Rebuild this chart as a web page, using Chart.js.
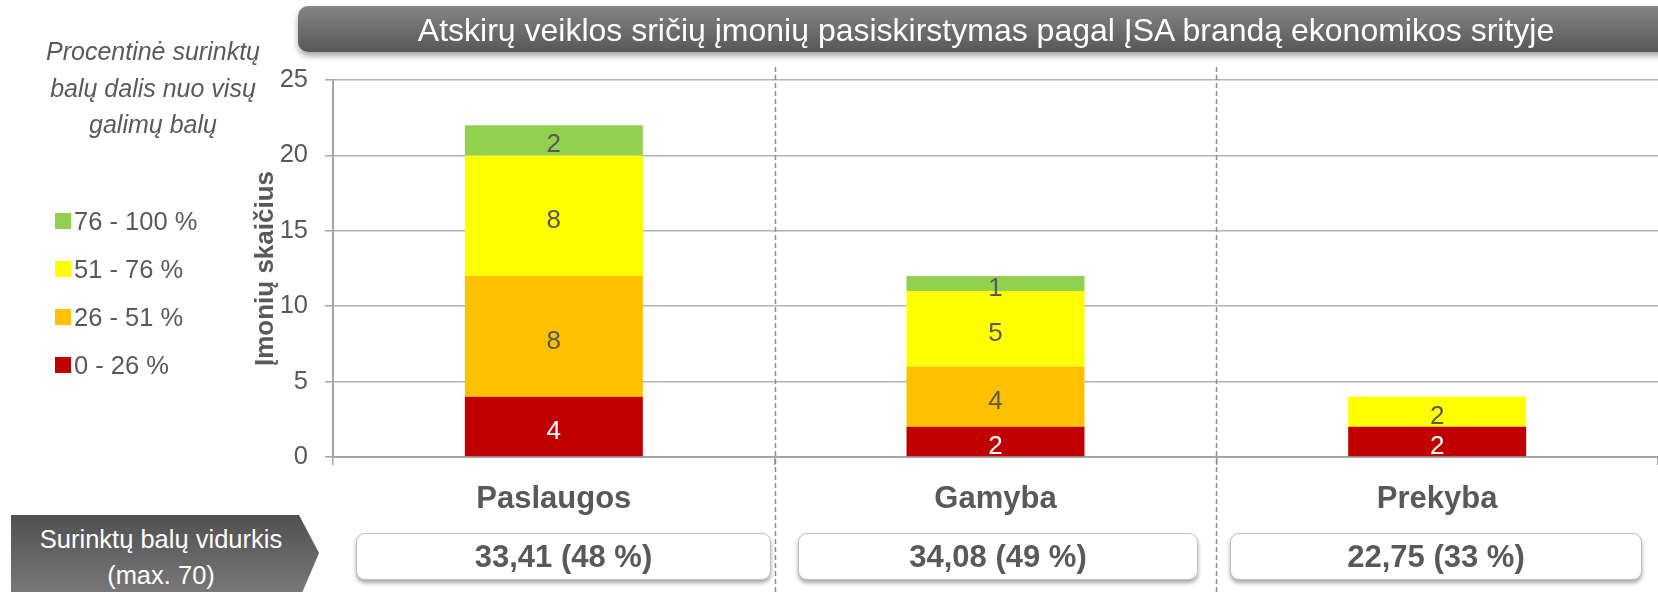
<!DOCTYPE html>
<html>
<head>
<meta charset="utf-8">
<script src="https://cdn.jsdelivr.net/npm/chart.js@4/dist/chart.umd.min.js"></script>
<style>
    html, body { margin: 0; padding: 0; background: #fff; }
    body { width: 1658px; height: 592px; overflow: hidden; position: relative;
           font-family: 'Liberation Sans', Arial, sans-serif; color: #595959; }
    #chart { position: absolute; left: 0; top: 0; }
    .title-bar { position: absolute; left: 298px; top: 6px; width: 1376px; height: 46px;
                 border-radius: 10px; background: linear-gradient(#858585, #575757);
                 box-shadow: 0 4px 6px rgba(0,0,0,0.35); color: #fff; font-size: 32px;
                 line-height: 48px; text-align: center; }
    .note { position: absolute; left: 23px; top: 33px; width: 260px; text-align: center;
            font-style: italic; font-size: 25px; line-height: 36.5px; }
    #legend { position: absolute; left: 55px; top: 206px; }
    .legend-row { display: flex; align-items: center; height: 30px; margin-bottom: 18px; font-size: 25.5px; }
    .legend-row span.box { width: 16px; height: 16px; margin-right: 3px; }
    .avg-tag { position: absolute; left: 11px; top: 515px; width: 310px; height: 85px;
               background: linear-gradient(#505050, #7c7c7c);
               clip-path: polygon(0 0, 288px 0, 308px 38px, 288px 85px, 0 85px);
               color: #fff; font-size: 25.5px; line-height: 36px; }
    .avg-tag div { width: 300px; text-align: center; padding-top: 6px; }
    .avg-box { position: absolute; top: 533px; height: 47px; box-sizing: border-box;
               border: 1.5px solid #BFBFBF; border-radius: 9px; background: #fff;
               box-shadow: 0 3px 4px rgba(0,0,0,0.35); font-weight: bold; font-size: 31px;
               display: flex; align-items: center; justify-content: center; }
</style>
</head>
<body>
<canvas id="chart" width="1658" height="592"></canvas>
<div class="title-bar">Atskirų veiklos sričių įmonių pasiskirstymas pagal ĮSA brandą ekonomikos srityje</div>
<div class="note">Procentinė surinktų<br>balų dalis nuo visų<br>galimų balų</div>
<div id="legend"></div>
<div class="avg-tag"><div>Surinktų balų vidurkis<br>(max. 70)</div></div>
<div id="avg-boxes"></div>
<script>
const categories = ['Paslaugos', 'Gamyba', 'Prekyba'];
const bandLabels = ['0 - 26 %', '26 - 51 %', '51 - 76 %', '76 - 100 %'];
const band0to26 = [4, 2, 2];
const band26to51 = [8, 4, 0];
const band51to76 = [8, 5, 2];
const band76to100 = [2, 1, 0];
const avgScores = [33.41, 34.08, 22.75];
const avgPercents = [48, 49, 33];
const yMax = 25;
const yStep = 5;

const bandColors = ['#C00000', '#FFC000', '#FFFF00', '#92D050'];
const boxEdges = [[356, 771], [798, 1198], [1230, 1642]];

Chart.defaults.font.family = "'Liberation Sans', Arial, sans-serif";
Chart.defaults.color = '#595959';

// legend, top band first
const legend = document.getElementById('legend');
bandLabels.slice().reverse().forEach((lbl, i) => {
    const color = bandColors[bandColors.length - 1 - i];
    legend.innerHTML += `<div class="legend-row"><span class="box" style="background:${color}"></span>${lbl}</div>`;
});

// average score boxes under each category
const boxes = document.getElementById('avg-boxes');
avgScores.forEach((s, i) => {
    const [l, r] = boxEdges[i];
    const txt = s.toFixed(2).replace('.', ',') + ' (' + avgPercents[i] + ' %)';
    boxes.innerHTML += `<div class="avg-box" style="left:${l}px;width:${r - l}px">${txt}</div>`;
});

const segmentLabels = {
    id: 'segmentLabels',
    afterDatasetsDraw(chart) {
        const ctx = chart.ctx;
        ctx.save();
        ctx.font = "26px 'Liberation Sans', Arial, sans-serif";
        ctx.textAlign = 'center';
        ctx.textBaseline = 'middle';
        chart.data.datasets.forEach((ds, di) => {
            chart.getDatasetMeta(di).data.forEach((bar, i) => {
                const v = ds.data[i];
                if (!v) return;
                ctx.fillStyle = di === 0 ? '#FFFFFF' : '#595959';
                ctx.fillText(String(v), bar.x, (bar.y + bar.base) / 2 + 5);
            });
        });
        ctx.restore();
    }
};

const dividers = {
    id: 'dividers',
    afterDraw(chart) {
        const x = chart.scales.x, ctx = chart.ctx;
        ctx.save();
        ctx.strokeStyle = '#8C8C8C';
        ctx.lineWidth = 1.5;
        ctx.setLineDash([5, 3]);
        for (let i = 0; i < categories.length - 1; i++) {
            const px = Math.round((x.getPixelForValue(i) + x.getPixelForValue(i + 1)) / 2) + 0.5;
            ctx.beginPath();
            ctx.moveTo(px, 67);
            ctx.lineTo(px, chart.height);
            ctx.stroke();
        }
        ctx.restore();
    }
};

const bandData = [band0to26, band26to51, band51to76, band76to100];

new Chart(document.getElementById('chart').getContext('2d'), {
    type: 'bar',
    data: {
        labels: categories,
        datasets: bandData.map((d, i) => ({
            label: bandLabels[i],
            data: d,
            backgroundColor: bandColors[i],
            borderWidth: 0,
            categoryPercentage: 1,
            barPercentage: 0.403
        }))
    },
    options: {
        responsive: false,
        animation: false,
        layout: { padding: { left: 240, top: 80, right: 0, bottom: 0 } },
        plugins: { legend: { display: false }, tooltip: { enabled: false } },
        scales: {
            x: {
                stacked: true,
                grid: { offset: true, drawOnChartArea: false, color: '#A6A6A6', lineWidth: 1.5, tickLength: 8 },
                border: { color: '#A6A6A6', width: 2 },
                ticks: { color: '#595959', font: { size: 31, weight: 'bold' }, padding: 16 },
                afterFit: s => { s.height = 135; }
            },
            y: {
                stacked: true,
                min: 0,
                max: yMax,
                ticks: { stepSize: yStep, color: '#595959', font: { size: 25.5 }, padding: 17 },
                grid: { color: '#B3B3B3', lineWidth: 1.5, tickLength: 8, tickColor: '#A6A6A6' },
                border: { color: '#A6A6A6', width: 2 },
                title: { display: true, text: 'Įmonių skaičius', color: '#595959',
                         font: { size: 26, weight: 'bold' }, padding: { top: 10 } },
                afterFit: s => { s.width = 93; }
            }
        }
    },
    plugins: [segmentLabels, dividers]
});
</script>
</body>
</html>
